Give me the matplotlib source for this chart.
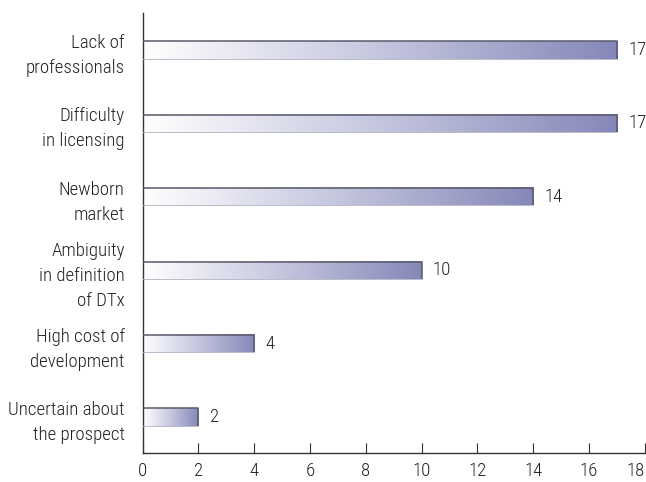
import matplotlib
matplotlib.use("Agg")
import matplotlib.pyplot as plt
import numpy as np
from matplotlib.colors import LinearSegmentedColormap
from matplotlib import font_manager

categories = ["Lack of\nprofessionals", "Difficulty\nin licensing", "Newborn\nmarket",
              "Ambiguity\nin definition\nof DTx", "High cost of\ndevelopment",
              "Uncertain about\nthe prospect"]
values = [17, 17, 14, 10, 4, 2]
xticks = [0, 2, 4, 6, 8, 10, 12, 14, 16, 18]

names = {f.name for f in font_manager.fontManager.ttflist}
fam = "DejaVu Sans"
for cand in ["Roboto Condensed", "Archivo Narrow", "Liberation Sans Narrow", "Barlow Semi Condensed", "Roboto"]:
    if cand in names:
        fam = cand
        break
plt.rcParams['font.family'] = [fam, 'DejaVu Sans']
plt.rcParams['font.weight'] = 'light'
FS = 13.6
TC = '#222222'

W, H = 646, 482
fig = plt.figure(figsize=(W / 100, H / 100), dpi=100)
L, R, T, B = 142.7, 644.7, 13, 452.7
ax = fig.add_axes([L / W, 1 - B / H, (R - L) / W, (B - T) / H])

cmap = LinearSegmentedColormap.from_list("g", ["#ffffff", "#c4c6de", "#8587b9"])
grad = np.linspace(0, 1, 256).reshape(1, -1)
h = 0.235
for i, v in enumerate(values):
    ax.imshow(grad, cmap=cmap, aspect='auto', extent=[0, v, i + h / 2, i - h / 2],
              interpolation='bilinear', zorder=2)
    ax.plot([0, v, v], [i - h / 2, i - h / 2, i + h / 2], color='#5a5a6a', lw=1.1, zorder=3,
            solid_capstyle='butt')
    ax.plot([0, v], [i + h / 2, i + h / 2], color='#b0b0c0', lw=0.6, zorder=3)
    ax.text(v + 0.4, i, str(v), va='center', ha='left', fontsize=FS, color=TC)

ax.set_xlim(0, 18)
ax.set_ylim(5.486, -0.504)
ax.set_xticks(xticks)
ax.set_xticklabels([str(t) for t in xticks], fontsize=FS, color=TC)
lbls = ax.get_xticklabels()
lbls[-1].set_horizontalalignment('right')
ax.set_yticks(range(len(categories)))
ax.set_yticklabels(categories, fontsize=FS, color=TC, linespacing=1.5)
ax.tick_params(axis='y', length=0, pad=13)
ax.tick_params(axis='x', direction='in', length=7, color='#333333', pad=7)
for s in ['top', 'right']:
    ax.spines[s].set_visible(False)
for s in ['left', 'bottom']:
    ax.spines[s].set_color('#333333')
    ax.spines[s].set_linewidth(1.0)

fig.savefig("out.png", dpi=100)
